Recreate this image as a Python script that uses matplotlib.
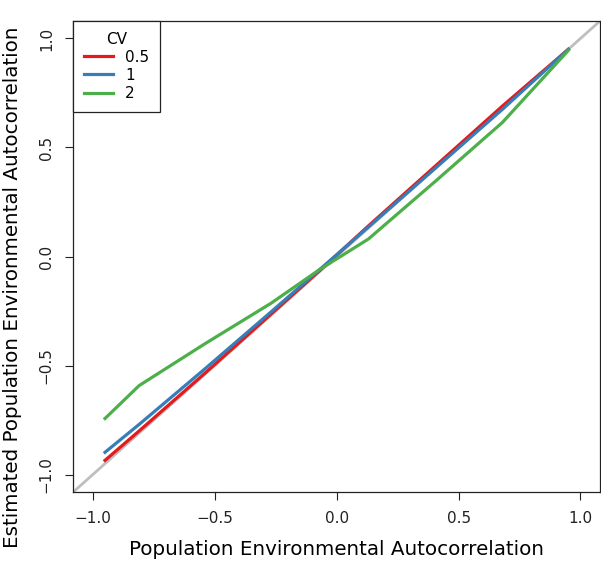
import numpy as np
import matplotlib
matplotlib.use("Agg")
import matplotlib.pyplot as plt

# population autocorrelation values (x) and estimates per CV level
x = [-0.95, -0.81, -0.54, -0.27, -0.07, 0.13, 0.41, 0.68, 0.95]
est_cv05 = [-0.935, -0.80, -0.535, -0.265, -0.065, 0.14, 0.42, 0.69, 0.95]
est_cv1 = [-0.898, -0.77, -0.515, -0.255, -0.06, 0.135, 0.41, 0.675, 0.95]
est_cv2 = [-0.743, -0.592, -0.40, -0.215, -0.06, 0.08, 0.35, 0.615, 0.945]

cv_labels = ["0.5", "1", "2"]
colors = ["#E41A1C", "#377EB8", "#4DAF4A"]

plt.rcParams["font.family"] = "DejaVu Sans"

fig = plt.figure(figsize=(6.01, 5.63), dpi=100)
ax = fig.add_axes([73.3 / 601, 71 / 563, 526.7 / 601, 471 / 563])

# 1:1 reference line
ax.axline((0, 0), slope=1, color="#BEBEBE", lw=2, zorder=1)

for est, lab, col in zip([est_cv05, est_cv1, est_cv2], cv_labels, colors):
    ax.plot(x, est, color=col, lw=2.3, label=lab, zorder=2)

ax.set_xlim(-1.08, 1.08)
ax.set_ylim(-1.08, 1.08)
ticks = [-1.0, -0.5, 0.0, 0.5, 1.0]
ax.set_xticks(ticks)
ax.set_yticks(ticks)
ax.set_xticklabels(["\u22121.0", "\u22120.5", "0.0", "0.5", "1.0"])
ax.set_yticklabels(["\u22121.0", "\u22120.5", "0.0", "0.5", "1.0"], rotation=90, va="center")
ax.tick_params(length=6, width=0.8, labelsize=11, pad=8, colors="#222222")
for s in ax.spines.values():
    s.set_linewidth(0.9)
    s.set_color("#222222")

ax.set_xlabel("Population Environmental Autocorrelation", fontsize=14.3, labelpad=10)
ax.set_ylabel("Estimated Population Environmental Autocorrelation", fontsize=14.3)
# the long y label runs past the top edge, as in the original
ax.yaxis.set_label_coords(-0.098, 0.435)

leg = ax.legend(title="CV", loc="upper left", bbox_to_anchor=(0, 1), borderaxespad=0,
                fancybox=False, edgecolor="#222222", framealpha=1, fontsize=11,
                title_fontsize=11, handlelength=1.9, borderpad=0.7, labelspacing=0.2,
                handletextpad=0.8)
leg.get_frame().set_linewidth(0.9)

fig.savefig("out.png", dpi=100)
